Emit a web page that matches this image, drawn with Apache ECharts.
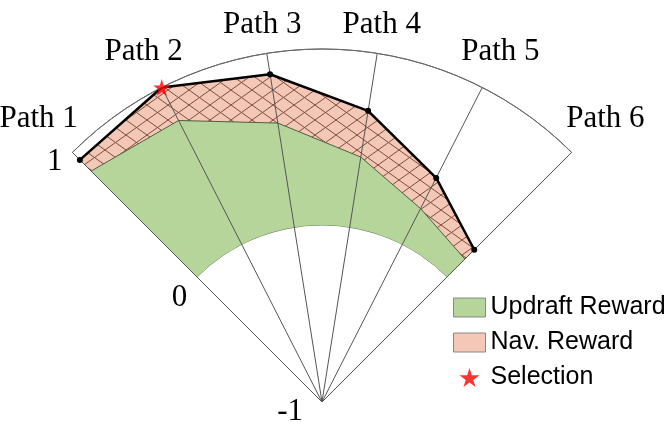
<!DOCTYPE html>
<html>
<head>
<meta charset="utf-8">
<script src="https://cdn.jsdelivr.net/npm/echarts@6/dist/echarts.min.js"></script>
<style>
  html, body { margin: 0; padding: 0; background: #fff; }
  #main { width: 664px; height: 428px; }
</style>
</head>
<body>
<div id="main"></div>
<script>
// values
const pathNames = ['Path 1', 'Path 2', 'Path 3', 'Path 4', 'Path 5', 'Path 6'];
const pathIndex = [0, 1, 2, 3, 4, 5];
const updraftReward = [0.85, 0.79, 0.60, 0.405, 0.23, 0.145];
const totalReward = [0.94, 1.0, 0.88, 0.67, 0.425, 0.22];
const selectedPath = 1;
const radiusTicks = [-1, 0, 1];

const green = '#b6d59a';
const pink = '#f4c8b6';
const starPath = 'path://M50,0 L61,35 L98,35 L68,57 L79,91 L50,70 L21,91 L32,57 L2,35 L39,35 Z';

// cross hatch tile for the nav reward area
function hatchTile() {
  const w = 21, h = 15;
  const cv = document.createElement('canvas');
  cv.width = w; cv.height = h;
  const ctx = cv.getContext('2d');
  ctx.fillStyle = pink;
  ctx.fillRect(0, 0, w, h);
  ctx.strokeStyle = '#7d4b3c';
  ctx.lineWidth = 1;
  ctx.beginPath();
  for (let k = -1; k <= 1; k++) {
    ctx.moveTo(-w + k * w, -h); ctx.lineTo(2 * w + k * w, 2 * h);
    ctx.moveTo(-w + k * w, 2 * h); ctx.lineTo(2 * w + k * w, -h);
  }
  ctx.stroke();
  return cv;
}

const pts = arr => arr.map((v, i) => [v, pathIndex[i]]);

const chart = echarts.init(document.getElementById('main'));
const option = {
  animation: false,
  backgroundColor: '#fff',
  polar: {
    center: [322, 402],
    radius: 353
  },
  angleAxis: {
    type: 'value',
    min: 0,
    max: 5,
    interval: 1,
    startAngle: 135,
    endAngle: 45,
    clockwise: true,
    z: 3,
    axisLine: { show: true, lineStyle: { color: '#666', width: 1 } },
    axisTick: { show: false },
    axisLabel: { show: false },
    splitLine: { show: true, lineStyle: { color: '#555', width: 1 } }
  },
  radiusAxis: {
    type: 'value',
    min: radiusTicks[0],
    max: radiusTicks[radiusTicks.length - 1],
    interval: 1,
    z: 2.5,
    axisLine: { show: false },
    axisTick: { show: false },
    splitLine: { show: true, lineStyle: { color: ['rgba(0,0,0,0)', '#66785a', '#666'], width: 1 } },
    // inner ring stays white so the fills start on a true arc at 0
    splitArea: { show: true, areaStyle: { color: ['#ffffff', 'rgba(0,0,0,0)'] } },
    axisLabel: {
      show: true,
      margin: 14,
      color: '#000',
      fontFamily: 'Liberation Serif',
      fontSize: 31,
      formatter: v => v === 0 ? '{mid|0}' : v < 0 ? '{low|' + v + '}' : '{top|' + v + '}',
      rich: {
        top: { fontFamily: 'Liberation Serif', fontSize: 31, color: '#000' },
        mid: { fontFamily: 'Liberation Serif', fontSize: 31, color: '#000', padding: [22, 0, 0, 0] },
        low: { fontFamily: 'Liberation Serif', fontSize: 31, color: '#000', padding: [0, 9, 0, 0] }
      }
    }
  },
  legend: {
    orient: 'vertical',
    left: 448,
    top: 290,
    itemWidth: 32,
    itemHeight: 19,
    itemGap: 10,
    selectedMode: false,
    textStyle: { color: '#000', fontFamily: 'Liberation Sans', fontSize: 25 },
    data: [
      { name: 'Updraft Reward', icon: 'rect', itemStyle: { color: green, borderColor: '#888', borderWidth: 1 } },
      { name: 'Nav. Reward', icon: 'rect', itemStyle: { color: pink, borderColor: '#888', borderWidth: 1 } },
      { name: 'Selection', icon: starPath, itemStyle: { color: '#ff0000' } }
    ]
  },
  series: [
    {
      name: 'Nav. Reward',
      type: 'line',
      coordinateSystem: 'polar',
      z: 1,
      showSymbol: false,
      lineStyle: { width: 0 },
      areaStyle: { color: { image: hatchTile(), repeat: 'repeat' }, opacity: 1 },
      data: pts(totalReward)
    },
    {
      name: 'Updraft Reward',
      type: 'line',
      coordinateSystem: 'polar',
      z: 2,
      showSymbol: false,
      color: green,
      lineStyle: { width: 1, color: '#4f5f43' },
      areaStyle: { color: green, opacity: 1 },
      data: pts(updraftReward)
    },
    {
      name: 'Total',
      type: 'line',
      coordinateSystem: 'polar',
      z: 4,
      symbol: 'circle',
      symbolSize: 6,
      itemStyle: { color: '#000' },
      lineStyle: { width: 2.5, color: '#000' },
      data: pts(totalReward)
    },
    {
      name: 'Selection',
      type: 'scatter',
      coordinateSystem: 'polar',
      z: 5,
      clip: false,
      symbol: starPath,
      symbolSize: 17,
      itemStyle: { color: '#ff0000' },
      data: [[totalReward[selectedPath], pathIndex[selectedPath]]]
    }
  ]
};
chart.setOption(option);

// path names outside the arc, centred on each spoke direction
const labelW = 80, labelH = 24, labelGap = 11;
const c = chart.convertToPixel({ seriesIndex: 0 }, [-1, 0]);
const labels = pathNames.map((name, i) => {
  const p = chart.convertToPixel({ seriesIndex: 0 }, [1, pathIndex[i]]);
  const dx = p[0] - c[0], dy = p[1] - c[1];
  const len = Math.hypot(dx, dy);
  const ux = dx / len, uy = dy / len;
  const off = labelGap + Math.abs(ux) * labelW / 2 + Math.abs(uy) * labelH / 2;
  return {
    type: 'text',
    x: p[0] + ux * off,
    y: p[1] + uy * off,
    style: {
      text: name,
      fill: '#000',
      font: '31px "Liberation Serif"',
      textAlign: 'center',
      textVerticalAlign: 'middle'
    }
  };
});
chart.setOption({ graphic: labels });
</script>
</body>
</html>
